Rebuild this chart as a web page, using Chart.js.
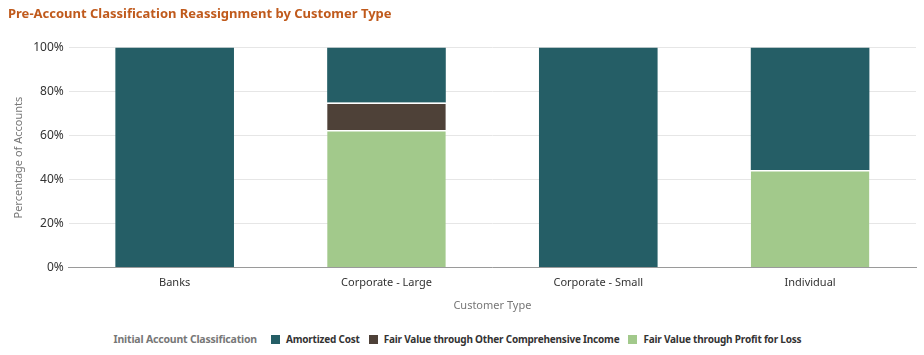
<!DOCTYPE html>
<html><head><meta charset="utf-8">
<script src="https://cdn.jsdelivr.net/npm/chart.js@4"></script>
<style>
html,body{margin:0;padding:0;background:#fff;}
#wrap{position:relative;width:924px;height:355px;}
#c{position:absolute;left:0;top:0;}
#legend{position:absolute;left:0;top:332px;width:924px;text-align:center;font-family:"Noto Sans",sans-serif;font-size:10px;font-weight:bold;color:#333;white-space:nowrap;letter-spacing:-0.2px;}
#legend span.t{color:#777;font-size:10.5px;margin-right:14px;}
#legend span.i{margin-right:9px;}
#legend i{display:inline-block;width:9px;height:9px;margin-right:6px;vertical-align:-1px;}
</style></head><body>
<div id="wrap"><canvas id="c" width="924" height="316"></canvas><div id="legend"></div></div>
<script>
const categories = ["Banks", "Corporate - Large", "Corporate - Small", "Individual"];
const seriesNames = ["Amortized Cost", "Fair Value through Other Comprehensive Income", "Fair Value through Profit for Loss"];
const amortizedCost = [100, 25, 100, 55.6];
const fvoci = [0, 12.5, 0, 0];
const fvtpl = [0, 62.5, 0, 44.4];
const yTicks = [0, 20, 40, 60, 80, 100];
const colors = ["#255e66", "#4e4138", "#a2c98b"];

const legendEl = document.getElementById('legend');
legendEl.innerHTML = '<span class="t">Initial Account Classification</span>' +
  seriesNames.map((n,i)=>'<span class="i"><i style="background:'+colors[i]+'"></i>'+n+'</span>').join('');

const mk = (label, data, color, top) => ({label, data, backgroundColor: color, borderColor: '#ffffff',
  borderWidth: {top: top, left: 0, right: 0, bottom: 0}, borderSkipped: false,
  categoryPercentage: 0.56, barPercentage: 1});

new Chart(document.getElementById('c'), {
  type: 'bar',
  data: { labels: categories, datasets: [
    mk(seriesNames[2], fvtpl, colors[2], 1.5),
    mk(seriesNames[1], fvoci, colors[1], 1.5),
    mk(seriesNames[0], amortizedCost, colors[0], 0)
  ]},
  options: {
    responsive: false, animation: false,
    layout: {padding: {left: 8, right: 8, top: 0, bottom: 0}},
    plugins: {
      legend: {display: false},
      tooltip: {enabled: false},
      title: {display: true, text: 'Pre-Account Classification Reassignment by Customer Type', align: 'start',
        color: '#c05a1c', font: {family: 'Noto Sans', size: 13, weight: 'bold'}, padding: {top: 6, bottom: 26}}
    },
    scales: {
      x: {stacked: true,
        grid: {display: false, drawTicks: false},
        border: {display: true, color: '#9a9a9a', width: 1},
        ticks: {color: '#333', font: {family: 'Noto Sans', size: 11}, padding: 9},
        title: {display: true, text: 'Customer Type', color: '#777', font: {family: 'Noto Sans', size: 11}, padding: {top: 0}}
      },
      y: {stacked: true, min: 0, max: 100,
        afterBuildTicks: ax => { ax.ticks = yTicks.map(v => ({value: v})); },
        grid: {color: '#e6e6e6', drawTicks: false},
        border: {display: false},
        ticks: {color: '#333', font: {family: 'Noto Sans', size: 12}, padding: 5, callback: v => v + '%'},
        title: {display: true, text: 'Percentage of Accounts', color: '#777', font: {family: 'Noto Sans', size: 11}, padding: {bottom: 3}}
      }
    }
  }
});
</script></body></html>
